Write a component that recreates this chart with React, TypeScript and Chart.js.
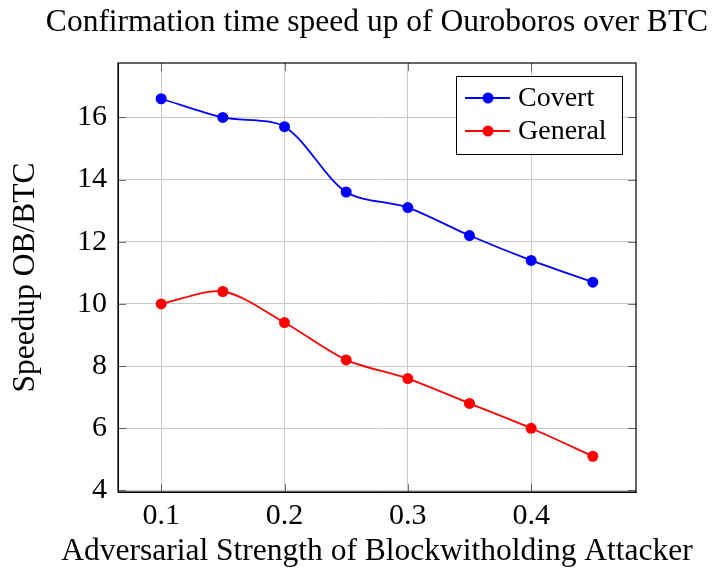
import React, { useEffect, useRef } from "react";
import { Chart, registerables } from "chart.js";
Chart.register(...registerables);

const xValues = [0.1, 0.15, 0.2, 0.25, 0.3, 0.35, 0.4, 0.45];
const covert = [16.6, 16.0, 15.7, 13.6, 13.1, 12.2, 11.4, 10.7];
const general = [10.0, 10.4, 9.4, 8.2, 7.6, 6.8, 6.0, 5.1];
const xTicks = [0.1, 0.2, 0.3, 0.4];
const yTicks = [4, 6, 8, 10, 12, 14, 16];
const seriesNames = ["Covert", "General"];
const seriesColors = ["#0000ff", "#ff0000"];
const titleText = "Confirmation time speed up of Ouroboros over BTC";
const xTitle = "Adversarial Strength of Blockwitholding Attacker";
const yTitle = "Speedup OB/BTC";

const FAMILY = "'Liberation Serif', 'DejaVu Serif', serif";
const TITLE_SIZE = 31.5;
const AXIS_SIZE = 31.5;
const TICK_SIZE = 30;
const LEGEND_SIZE = 28;

const overlayPlugin = {
  id: "overlay",
  afterDraw(chart: any) {
    const ctx = chart.ctx;
    const ca = chart.chartArea;
    const xs = chart.scales.x;
    const ys = chart.scales.y;
    ctx.save();
    // inner ticks
    ctx.strokeStyle = "rgba(0,0,0,0.55)";
    ctx.lineWidth = 1;
    const tl = 8;
    ctx.beginPath();
    xTicks.forEach((v) => {
      const px = Math.round(xs.getPixelForValue(v)) + 0.5;
      ctx.moveTo(px, ca.bottom);
      ctx.lineTo(px, ca.bottom - tl);
      ctx.moveTo(px, ca.top);
      ctx.lineTo(px, ca.top + tl);
    });
    yTicks.forEach((v) => {
      const py = Math.round(ys.getPixelForValue(v)) + 0.5;
      ctx.moveTo(ca.left, py);
      ctx.lineTo(ca.left + tl, py);
      ctx.moveTo(ca.right, py);
      ctx.lineTo(ca.right - tl, py);
    });
    ctx.stroke();
    // frame
    ctx.strokeStyle = "#000";
    ctx.lineWidth = 1.2;
    ctx.strokeRect(ca.left, ca.top, ca.right - ca.left, ca.bottom - ca.top);
    // legend
    const w = 166;
    const h = 78;
    const x0 = ca.right - 14 - w;
    const y0 = ca.top + 13;
    ctx.fillStyle = "#fff";
    ctx.fillRect(x0, y0, w, h);
    ctx.strokeStyle = "#000";
    ctx.lineWidth = 1;
    ctx.strokeRect(x0 + 0.5, y0 + 0.5, w, h);
    ctx.font = `${LEGEND_SIZE}px ${FAMILY}`;
    ctx.textBaseline = "middle";
    ctx.textAlign = "left";
    seriesNames.forEach((name, i) => {
      const y = y0 + 22 + i * 33;
      ctx.strokeStyle = seriesColors[i];
      ctx.lineWidth = 1.8;
      ctx.beginPath();
      ctx.moveTo(x0 + 9, y);
      ctx.lineTo(x0 + 54, y);
      ctx.stroke();
      ctx.fillStyle = seriesColors[i];
      ctx.beginPath();
      ctx.arc(x0 + 32, y, 5.5, 0, Math.PI * 2);
      ctx.fill();
      ctx.fillStyle = "#000";
      ctx.fillText(name, x0 + 62, y + 1);
    });
    // title
    ctx.font = `${TITLE_SIZE}px ${FAMILY}`;
    ctx.textAlign = "center";
    ctx.fillText(titleText, (ca.left + ca.right) / 2, 23);
    // x axis title
    ctx.font = `${AXIS_SIZE}px ${FAMILY}`;
    ctx.fillText(xTitle, (ca.left + ca.right) / 2, 552);
    ctx.restore();
  },
};

export default function App() {
  const ref = useRef<HTMLCanvasElement>(null);
  useEffect(() => {
    document.body.style.margin = "0";
    const tickFont = { family: FAMILY, size: TICK_SIZE };
    const axisFont = { family: FAMILY, size: AXIS_SIZE, lineHeight: 1 };
    const chart = new Chart(ref.current!, {
      type: "line",
      data: {
        datasets: [covert, general].map((s, i) => ({
          label: seriesNames[i],
          data: xValues.map((x, j) => ({ x, y: s[j] })),
          borderColor: seriesColors[i],
          backgroundColor: seriesColors[i],
          borderWidth: 1.8,
          pointRadius: 5.5,
          pointBorderWidth: 0,
          tension: 0.3,
          fill: false,
        })),
      },
      options: {
        animation: false,
        responsive: false,
        layout: { padding: { top: 63, right: 77, left: 0, bottom: 0 } },
        plugins: {
          legend: { display: false },
          title: { display: false },
          tooltip: { enabled: false },
        },
        scales: {
          x: {
            type: "linear",
            min: 0.065,
            max: 0.485,
            afterBuildTicks: (s: any) => {
              s.ticks = xTicks.map((v) => ({ value: v }));
            },
            afterFit: (s: any) => {
              s.height = 76;
            },
            ticks: { font: tickFont, color: "#000", padding: 6, callback: (v: any) => String(v) },
            grid: { color: "#c8c8c8", drawTicks: false, lineWidth: 1 },
            border: { color: "#000", width: 1 },
            title: { display: false, text: xTitle },
          },
          y: {
            type: "linear",
            min: 3.95,
            max: 17.75,
            afterBuildTicks: (s: any) => {
              s.ticks = yTicks.map((v) => ({ value: v }));
            },
            afterFit: (s: any) => {
              s.width = 118;
            },
            ticks: { font: tickFont, color: "#000", padding: 11, callback: (v: any) => String(v) },
            grid: { color: "#c8c8c8", drawTicks: false, lineWidth: 1 },
            border: { color: "#000", width: 1 },
            title: { display: true, text: yTitle, font: axisFont, color: "#000", padding: { top: 9.5, bottom: 0 } },
          },
        },
      },
      plugins: [overlayPlugin],
    });
    return () => chart.destroy();
  }, []);
  return (
    <div style={{ width: 713, height: 568 }}>
      <canvas ref={ref} width={713} height={568} />
    </div>
  );
}
